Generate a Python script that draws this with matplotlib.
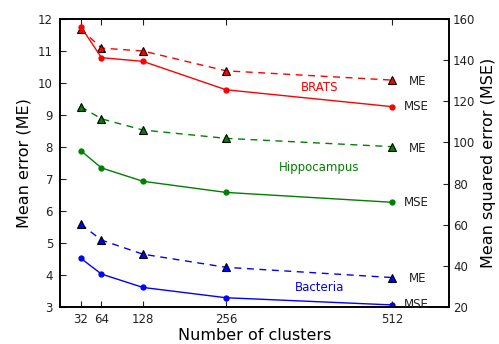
import matplotlib
matplotlib.use("Agg")
import matplotlib.pyplot as plt

clusters = [32, 64, 128, 256, 512]

brats_me = [11.69, 11.09, 11.00, 10.38, 10.09]
brats_mse = [156.3, 141.2, 139.4, 125.6, 117.4]
hippo_me = [9.26, 8.88, 8.53, 8.27, 8.01]
hippo_mse = [96.0, 87.6, 81.1, 75.7, 70.9]
bact_me = [5.59, 5.09, 4.65, 4.24, 3.92]
bact_mse = [43.7, 36.0, 29.5, 24.5, 21.0]

names = ["BRATS", "Hippocampus", "Bacteria"]
colors = ["r", (0, 0.5, 0), "b"]
me_series = [brats_me, hippo_me, bact_me]
mse_series = [brats_mse, hippo_mse, bact_mse]
# label anchors in (x, ME-axis y) data coords
name_pos = [(400, 9.87), (400, 7.37), (400, 3.62)]

fig = plt.figure(figsize=(4.99, 3.44), dpi=100, facecolor="white")
ax = fig.add_axes([0.1202, 0.1076, 0.7796, 0.8372])
ax2 = ax.twinx()

for name, c, me, mse, pos in zip(names, colors, me_series, mse_series, name_pos):
    ax.plot(clusters, me, "--", color=c, lw=1, marker="^", ms=6,
            markerfacecolor=c, markeredgecolor="k", markeredgewidth=0.8, dashes=(5, 4))
    ax2.plot(clusters, mse, "-", color=c, lw=1, marker="o", ms=3.5,
             markerfacecolor=c, markeredgecolor=c)
    ax.annotate("ME", (clusters[-1], me[-1]), xytext=(12, -1), textcoords="offset points",
                ha="left", va="center", fontsize=8.5, color="#222222")
    ax2.annotate("MSE", (clusters[-1], mse[-1]), xytext=(8.5, 0), textcoords="offset points",
                 ha="left", va="center", fontsize=8.5, color="#222222")
    ax.text(pos[0], pos[1], name, color=c, ha="center", va="center", fontsize=8.5)

ax.set_xlim(0, 600)
ax.set_ylim(3, 12)
ax2.set_ylim(20, 160)
ax.set_xticks(clusters)
ax.set_yticks(range(3, 13))
ax2.set_yticks(range(20, 161, 20))
ax.set_xlabel("Number of clusters", fontsize=11.5, labelpad=2)
ax.set_ylabel("Mean error (ME)", fontsize=11.5, labelpad=5)
ax2.set_ylabel("Mean squared error (MSE)", fontsize=11.5, labelpad=4)

for a in (ax, ax2):
    a.tick_params(direction="in", length=4, labelsize=8.5, colors="#222222")
ax.tick_params(axis="x", top=True, bottom=True, pad=4)
ax.tick_params(axis="y", pad=5)
ax2.tick_params(axis="y", pad=3)
for a in (ax, ax2):
    for s in a.spines.values():
        s.set_linewidth(1.2)

fig.savefig("out.png", dpi=100, facecolor="white")
